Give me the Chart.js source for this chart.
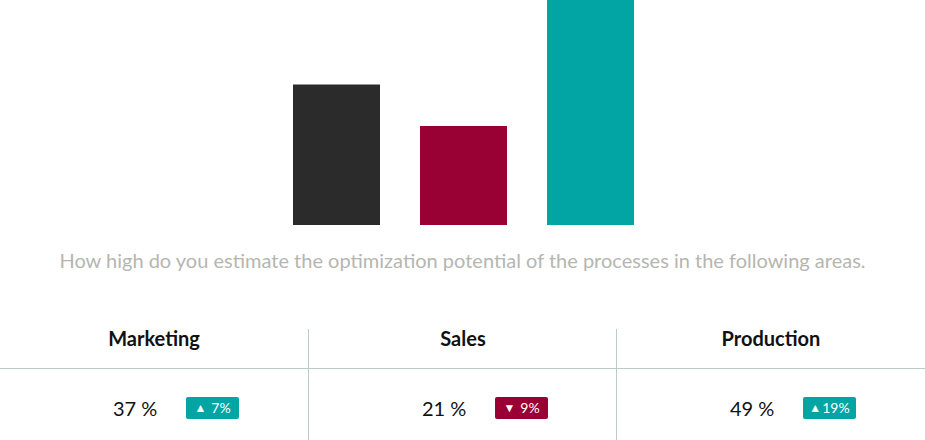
<!DOCTYPE html>
<html lang="en">
<head>
    <meta charset="UTF-8">
    <title>Optimization potential</title>
    <script src="https://cdn.jsdelivr.net/npm/chart.js"></script>
    <style>
        body { margin: 0; background: #fff; font-family: Lato, "Open Sans", sans-serif; width: 925px; height: 440px; overflow: hidden; position: relative; }
        #chartBox { position: absolute; left: 0; top: 0; width: 925px; height: 225px; }
        .caption { position: absolute; left: 0; top: 248px; width: 925px; text-align: center; font-size: 20px; line-height: 24px; color: #b5b6b0; }
        .hline { position: absolute; left: 0; top: 368px; width: 925px; height: 1px; background: #b9cdc5; }
        .vline { position: absolute; top: 329px; width: 1px; height: 111px; background: #b9cdc5; }
        .col { position: absolute; top: 328px; width: 308px; }
        .head { height: 39px; line-height: 20px; text-align: center; font-weight: bold; font-size: 20px; color: #111; }
        .val { position: absolute; top: 70px; left: 113px; font-size: 20px; color: #111; line-height: 20px; }
        .badge { position: absolute; top: 69px; left: 186px; width: 53px; height: 22px; border-radius: 2px; color: #fff; font-size: 14px; line-height: 22px; text-align: center; }
        .badge small { font-size: 12px; margin-right: 5px; position: relative; top: -1px; }
    </style>
</head>
<body>
    <div id="chartBox"><canvas id="grafico"></canvas></div>
    <div class="caption">How high do you estimate the optimization potential of the processes in the following areas.</div>
    <div class="hline"></div>
    <div class="vline" style="left: 308px;"></div>
    <div class="vline" style="left: 616px;"></div>
    <div id="tabla"></div>

    <script>
        // categorias y valores
        const categories = ['Marketing', 'Sales', 'Production'];
        const barLevels = [62.5, 44, 100];   // bar heights (top bar is cut at the edge)
        const shares = [37, 21, 49];          // % shown under each column
        const changes = [7, -9, 19];          // change badges
        const colors = ['#2b2b2b', '#990033', '#02a5a4'];

        // tabla de abajo
        const tabla = document.getElementById('tabla');
        categories.forEach((cat, i) => {
            const col = document.createElement('div');
            col.className = 'col';
            col.style.left = Math.round(i * 308.5) + 'px';
            const up = changes[i] >= 0;
            const arrow = up ? '&#9650;' : '&#9660;';
            col.innerHTML =
                '<div class="head">' + cat + '</div>' +
                '<div class="val">' + shares[i] + ' %</div>' +
                '<div class="badge" style="background:' + (up ? colors[2] : colors[1]) + '"><small>' + arrow + '</small>' +
                Math.abs(changes[i]) + '%</div>';
            if (Math.abs(changes[i]) >= 10) col.querySelector('small').style.marginRight = '1px';
            tabla.appendChild(col);
        });

        const ctx = document.getElementById('grafico').getContext('2d');
        new Chart(ctx, {
            type: 'bar',
            data: {
                labels: categories,
                datasets: [{
                    data: barLevels,
                    backgroundColor: colors,
                    borderWidth: 0,
                    barPercentage: 0.685,
                    categoryPercentage: 1
                }]
            },
            options: {
                responsive: true,
                maintainAspectRatio: false,
                animation: false,
                layout: { padding: { left: 273, right: 271, top: 0, bottom: 0 } },
                plugins: { legend: { display: false }, tooltip: { enabled: false } },
                scales: {
                    x: { display: false },
                    y: { display: false, min: 0, max: 100 }
                }
            }
        });
    </script>
</body>
</html>
